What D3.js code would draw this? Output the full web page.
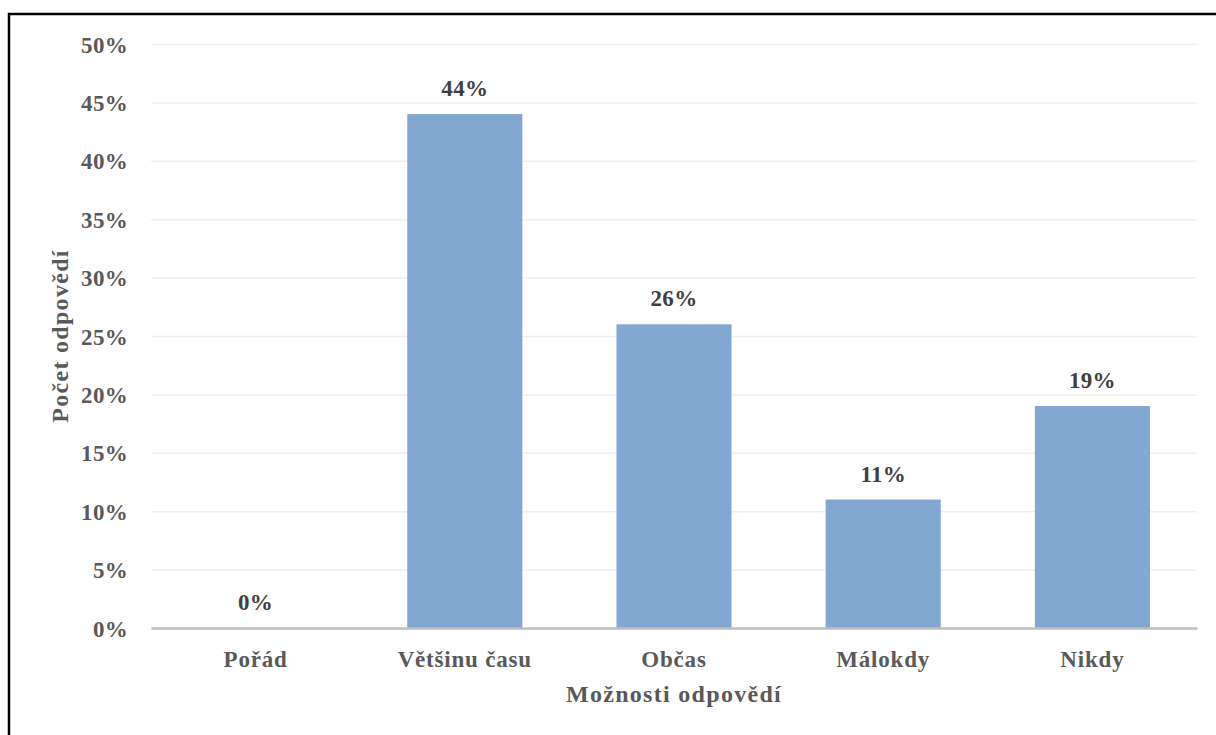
<!DOCTYPE html>
<html><head><meta charset="utf-8">
<script src="https://cdn.jsdelivr.net/npm/d3@7"></script>
<style>body{margin:0;background:#fff;}svg{display:block;}</style>
</head><body>
<svg id="c" width="1216" height="735"></svg>
<script>
const categories = ["Pořád", "Většinu času", "Občas", "Málokdy", "Nikdy"];
const values = [0, 44, 26, 11, 19];
const yTicks = [0, 5, 10, 15, 20, 25, 30, 35, 40, 45, 50];
const xTitle = "Možnosti odpovědí";
const yTitle = "Počet odpovědí";

const svg = d3.select("#c");
const font = "Liberation Serif, DejaVu Serif, serif";
const L = 151, R = 1197, T = 44, B = 628;

svg.append("rect").attr("x", 9).attr("y", 14).attr("width", 1220).attr("height", 740)
  .attr("fill", "none").attr("stroke", "#000").attr("stroke-width", 2.5);

const x = d3.scaleBand().domain(categories).range([L, R]).paddingInner(0.45).paddingOuter(0.225);
const y = d3.scaleLinear().domain([0, 50]).range([B, T]);

// gridlines
const yAxis = d3.axisLeft(y).tickValues(yTicks).tickSize(-(R - L)).tickFormat(d => d + "%").tickPadding(23);
const gy = svg.append("g").attr("transform", `translate(${L},0)`).call(yAxis);
gy.select(".domain").remove();
gy.selectAll(".tick line").attr("stroke", "#F0F0F0").attr("stroke-width", 1.5);
gy.selectAll(".tick text").attr("font-family", font).attr("font-weight", "bold")
  .attr("font-size", 23).attr("fill", "#595959").attr("dy", "0.35em").attr("letter-spacing", 0.3);

// bars
svg.append("g").selectAll("rect").data(values).join("rect")
  .attr("x", (d, i) => x(categories[i]))
  .attr("width", x.bandwidth())
  .attr("y", d => y(d))
  .attr("height", d => y(0) - y(d))
  .attr("fill", "#82A7D0");

// baseline axis
const xAxis = d3.axisBottom(x).tickSize(0).tickPadding(31);
const gx = svg.append("g").attr("transform", `translate(0,${B})`).call(xAxis);
gx.select(".domain").attr("stroke", "#BFBFBF").attr("stroke-width", 2.5);
gx.selectAll(".tick text").attr("font-family", font).attr("font-weight", "bold")
  .attr("font-size", 23).attr("fill", "#595959").attr("dy", "0.35em").attr("letter-spacing", 0.8);

// data labels
svg.append("g").selectAll("text").data(values).join("text")
  .attr("x", (d, i) => x(categories[i]) + x.bandwidth() / 2)
  .attr("y", d => y(d) - 18)
  .attr("text-anchor", "middle")
  .attr("font-family", font).attr("font-weight", "bold").attr("font-size", 23)
  .attr("fill", "#404040").attr("letter-spacing", 0.3)
  .text(d => d + "%");

// axis titles
svg.append("text").attr("x", (L + R) / 2).attr("y", 702).attr("text-anchor", "middle")
  .attr("font-family", font).attr("font-weight", "bold").attr("font-size", 24)
  .attr("fill", "#595959").attr("letter-spacing", 1.3).text(xTitle);
svg.append("text").attr("transform", `translate(68,${(T + B) / 2}) rotate(-90)`)
  .attr("text-anchor", "middle")
  .attr("font-family", font).attr("font-weight", "bold").attr("font-size", 24)
  .attr("fill", "#595959").attr("letter-spacing", 1.3).text(yTitle);
</script>
</body></html>
